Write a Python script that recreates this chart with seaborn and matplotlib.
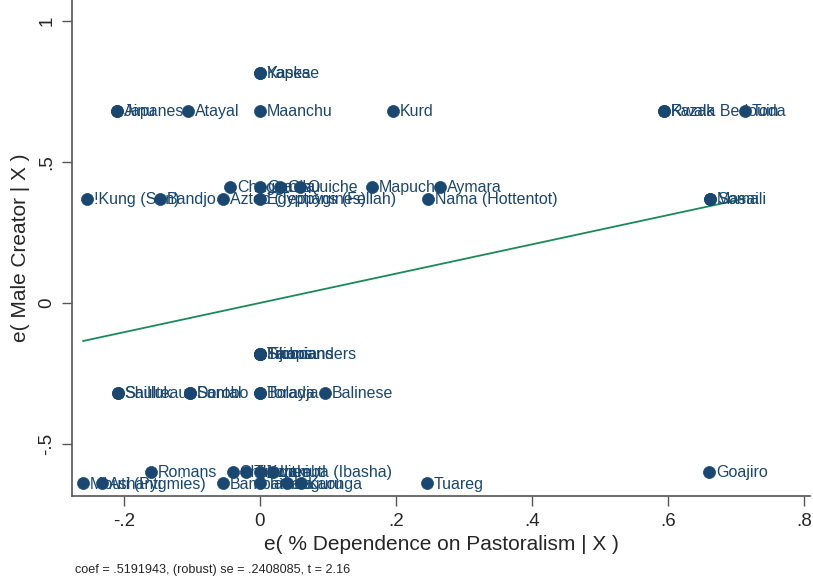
import matplotlib
matplotlib.use("Agg")
import matplotlib.pyplot as plt
import seaborn as sns
import pandas as pd
import numpy as np

# Data
societies = [
    "Kaska", "Yapese",
    "Ainu", "Japanese", "Atayal", "Maanchu", "Kurd", "Kazak", "Rwala Bedouin", "Toda",
    "Chagga", "Ganda", "Gisu", "Quiche", "Mapuche", "Aymara",
    "!Kung (San)", "Bandjo", "Aztec (Teppygines)", "Egyptians (Fellah)", "Nama (Hottentot)", "Masai", "Somali",
    "Tikopia", "Trobrianders", "Fijians", "Samoans",
    "Saulteaux", "Shilluk", "Dorobo", "Santal", "Toradja", "Bolaya", "Balinese",
    "Romans", "Chukchee", "Tlingit", "Kwakiutl", "Lamba (Ibasha)", "Goajiro",
    "Mbuti (Pygmies)", "Ashanti", "Bambara", "Tanala", "Luguru", "Kaonga", "Tuareg",
]
pastoral_resid = [
    0.0, 0.0,
    -0.21, -0.21, -0.106, 0.0, 0.196, 0.594, 0.594, 0.713,
    -0.044, 0.0, 0.03, 0.059, 0.165, 0.265,
    -0.254, -0.147, -0.054, 0.0, 0.247, 0.662, 0.662,
    0.0, 0.0, 0.0, 0.0,
    -0.209, -0.209, -0.103, -0.103, 0.0, 0.0, 0.096,
    -0.16, -0.04, -0.02, 0.0, 0.02, 0.66,
    -0.26, -0.232, -0.054, 0.0, 0.04, 0.06, 0.245,
]
creator_resid = [
    0.816, 0.816,
    0.68, 0.68, 0.68, 0.68, 0.68, 0.68, 0.68, 0.68,
    0.41, 0.41, 0.41, 0.41, 0.41, 0.41,
    0.37, 0.37, 0.37, 0.37, 0.37, 0.37, 0.37,
    -0.18, -0.18, -0.18, -0.18,
    -0.32, -0.32, -0.32, -0.32, -0.32, -0.32, -0.32,
    -0.60, -0.60, -0.60, -0.60, -0.60, -0.60,
    -0.64, -0.64, -0.64, -0.64, -0.64, -0.64, -0.64,
]
coef = 0.5191943
se = 0.2408085
tstat = 2.16
x_ticks = [-0.2, 0, 0.2, 0.4, 0.6, 0.8]
x_ticklabels = ["-.2", "0", ".2", ".4", ".6", ".8"]
y_ticks = [-0.5, 0, 0.5, 1]
y_ticklabels = ["-.5", "0", ".5", "1"]

df = pd.DataFrame({"society": societies, "x": pastoral_resid, "y": creator_resid})

sns.set_theme(style="white")
plt.rcParams["font.family"] = ["Liberation Sans", "DejaVu Sans"]

navy = "#1a476f"
green = "#1b8a5a"

fig = plt.figure(figsize=(8.13, 5.8), dpi=100)
ax = fig.add_axes([0.0886, 0.145, 0.908, 0.855])

sns.scatterplot(data=df, x="x", y="y", ax=ax, color=navy, s=75,
                edgecolor=navy, linewidth=0.5, zorder=3)
for _, r in df.iterrows():
    ax.annotate(r["society"], (r["x"], r["y"]), xytext=(5, -0.5),
                textcoords="offset points", va="center", ha="left",
                fontsize=11.5, color=navy, zorder=4)

xl = np.array([min(pastoral_resid), max(pastoral_resid)])
sns.lineplot(x=xl, y=coef * xl, ax=ax, color=green, linewidth=1.3, zorder=2)

ax.set_xlim(-0.276, 0.809)
ax.set_ylim(-0.684, 1.074)
ax.set_xticks(x_ticks)
ax.set_xticklabels(x_ticklabels)
ax.set_yticks(y_ticks)
ax.set_yticklabels(y_ticklabels, rotation=90, va="center")
ax.tick_params(axis="both", labelsize=13.5, length=7, width=1, color="#555555",
               direction="out", bottom=True, left=True, pad=5)
for s in ["top", "right"]:
    ax.spines[s].set_visible(False)
for s in ["left", "bottom"]:
    ax.spines[s].set_color("#555555")
    ax.spines[s].set_linewidth(1.2)

ax.set_xlabel("e( % Dependence on Pastoralism | X )", fontsize=15, labelpad=4)
ax.set_ylabel("e( Male Creator | X )", fontsize=15, labelpad=6)

fig.text(75 / 813, 1 - 570 / 580, f"coef = .{str(coef).split('.')[1]}, (robust) se = .{str(se).split('.')[1]}, t = {tstat}",
         fontsize=9.1, va="center", ha="left")

fig.savefig("out.png", dpi=100, facecolor="white")
